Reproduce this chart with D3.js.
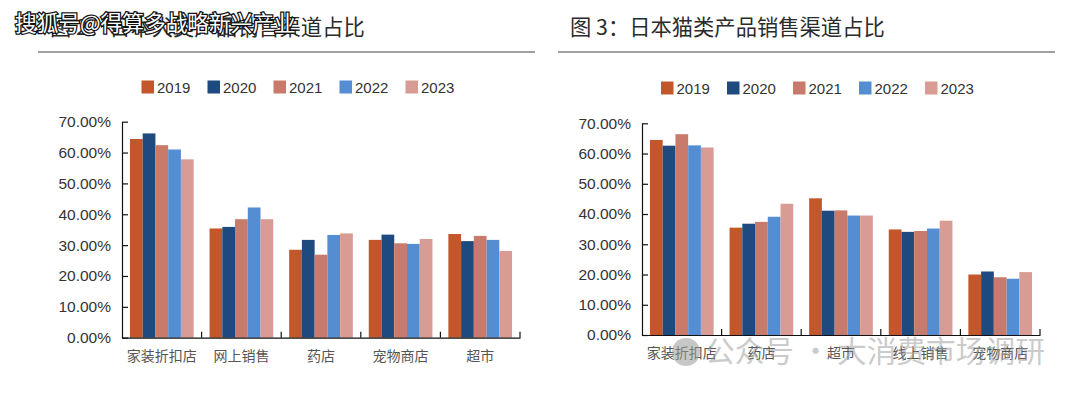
<!DOCTYPE html>
<html lang="en">
<head>
<meta charset="UTF-8">
<title>日本宠物产品销售渠道占比</title>
<script src="https://d3js.org/d3.v7.min.js"></script>
<style>
    html, body { margin: 0; padding: 0; background: #fff; }
    svg { display: block; }
    .title { font-family: "Noto Sans CJK SC"; font-size: 21.3px; fill: #2b2b2b; }
    .legend text { font-family: "Liberation Sans"; font-size: 15px; fill: #333; }
    .y-axis text { font-family: "Liberation Sans"; font-size: 15.5px; fill: #333; }
    .x-axis text { font-family: "Noto Sans CJK SC"; font-size: 14px; fill: #555; }
    .domain, .tick line { stroke: #111; stroke-width: 1.2px; }
</style>
</head>
<body>
<script>
    const years = ["2019", "2020", "2021", "2022", "2023"];
    const colors = ["#C4572A", "#1F4A7F", "#C97B6B", "#558DD3", "#D89C95"];
    const yTicks = [0, 10, 20, 30, 40, 50, 60, 70];

    const leftCategories = ["家装折扣店", "网上销售", "药店", "宠物商店", "超市"];
    const leftValues = [
        [64.4, 66.2, 62.4, 61.0, 57.8],
        [35.4, 35.9, 38.4, 42.2, 38.4],
        [28.5, 31.7, 26.9, 33.3, 33.8],
        [31.7, 33.4, 30.6, 30.4, 32.0],
        [33.6, 31.3, 33.0, 31.7, 28.1]
    ];

    const rightCategories = ["家装折扣店", "药店", "超市", "线上销售", "宠物商店"];
    const rightValues = [
        [64.5, 62.6, 66.4, 62.7, 62.0],
        [35.5, 36.8, 37.4, 39.1, 43.4],
        [45.2, 41.1, 41.2, 39.5, 39.5],
        [34.9, 34.1, 34.4, 35.2, 37.8],
        [20.0, 21.0, 19.1, 18.6, 20.8]
    ];

    const svg = d3.select("body").append("svg")
        .attr("width", 1080)
        .attr("height", 394);

    function drawPanel(opts) {
        // title + rule
        svg.append("text").attr("class", "title")
            .attr("x", opts.titleX).attr("y", 35)
            .text(opts.title);
        svg.append("line")
            .attr("x1", opts.ruleX[0]).attr("x2", opts.ruleX[1])
            .attr("y1", 52).attr("y2", 52)
            .attr("stroke", "#808080").attr("stroke-width", 1.5);

        // legend
        const legend = svg.append("g").attr("class", "legend");
        const item = legend.selectAll("g").data(years).enter().append("g")
            .attr("transform", (d, i) => `translate(${opts.legendX + i * 66},${opts.legendY})`);
        item.append("rect")
            .attr("x", 0).attr("y", -6.5).attr("width", 12.5).attr("height", 13)
            .attr("fill", (d, i) => colors[i]);
        item.append("text").attr("x", 15.5).attr("y", 5.5).text(d => d);

        // scales
        const x0 = d3.scaleBand().domain(opts.categories)
            .range(opts.xRange).paddingInner(0.2).paddingOuter(0.1);
        const x1 = d3.scaleBand().domain(years)
            .range([0, x0.bandwidth()]);
        const y = d3.scaleLinear().domain([0, 70]).range(opts.yRange);

        // bars
        const group = svg.append("g").selectAll("g").data(opts.values).enter().append("g")
            .attr("transform", (d, i) => `translate(${x0(opts.categories[i])},0)`);
        group.selectAll("rect").data(d => d).enter().append("rect")
            .attr("x", (d, i) => x1(years[i]))
            .attr("y", d => y(d))
            .attr("width", x1.bandwidth())
            .attr("height", d => y(0) - y(d))
            .attr("fill", (d, i) => colors[i]);

        // axes
        const yAxis = d3.axisLeft(y).tickValues(yTicks)
            .tickFormat(d => d.toFixed(2) + "%")
            .tickSizeInner(-6).tickSizeOuter(0).tickPadding(11);
        svg.append("g").attr("class", "y-axis")
            .attr("transform", `translate(${opts.xRange[0]},0)`)
            .call(yAxis);

        const xAxis = d3.axisBottom(x0).tickSize(0).tickPadding(13);
        const xg = svg.append("g").attr("class", "x-axis")
            .attr("transform", `translate(0,${opts.yRange[0]})`)
            .call(xAxis);

        // tick marks sit between the categories, pointing up
        const step = x0.step();
        xg.selectAll("line.sep").data(opts.categories).enter().append("line")
            .attr("class", "sep")
            .attr("stroke", "#111").attr("stroke-width", 1.2)
            .attr("x1", (d, i) => opts.xRange[0] + (i + 1) * step)
            .attr("x2", (d, i) => opts.xRange[0] + (i + 1) * step)
            .attr("y1", 0).attr("y2", -6);
    }

    drawPanel({
        title: "图 2：日本犬类产品销售渠道占比",
        titleX: 50,
        ruleX: [38, 535],
        legendX: 141.5,
        legendY: 87,
        categories: leftCategories,
        values: leftValues,
        xRange: [122, 520],
        yRange: [337.7, 121.7]
    });

    drawPanel({
        title: "图 3：日本猫类产品销售渠道占比",
        titleX: 570,
        ruleX: [558, 1055],
        legendX: 661,
        legendY: 88,
        categories: rightCategories,
        values: rightValues,
        xRange: [642, 1040],
        yRange: [335, 123.3]
    });

    // site watermark over the left title
    svg.append("text")
        .attr("x", 15).attr("y", 31)
        .attr("font-family", "Noto Sans CJK SC").attr("font-size", 21.7)
        .attr("fill", "#fff").attr("stroke", "#111").attr("stroke-width", 2.6)
        .attr("paint-order", "stroke")
        .text("搜狐号@得算多战略新兴产业");

    // account watermark over the right chart
    svg.append("circle")
        .attr("cx", 686).attr("cy", 352).attr("r", 14)
        .attr("fill", "#999").attr("opacity", 0.55);
    svg.append("text")
        .attr("x", 705).attr("y", 362)
        .attr("font-family", "Noto Sans CJK SC").attr("font-size", 29.7)
        .attr("fill", "#999").attr("opacity", 0.5)
        .text("公众号 · 大消费市场调研");
</script>
</body>
</html>
